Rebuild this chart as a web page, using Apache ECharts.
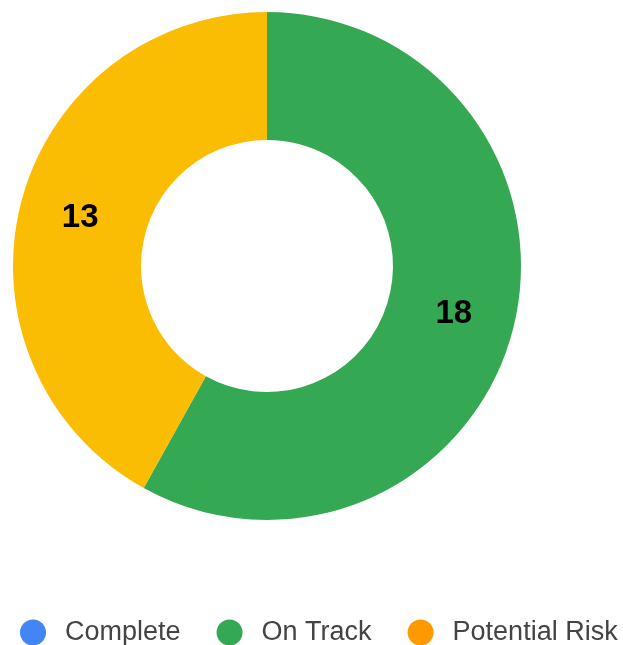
<!DOCTYPE html>
<html><head><meta charset="utf-8">
<script src="https://cdn.jsdelivr.net/npm/echarts@6/dist/echarts.min.js"></script>
<style>html,body{margin:0;padding:0;background:#fff}#c{width:623px;height:645px}</style>
</head><body><div id="c"></div>
<script>
const categories = ['Complete', 'On Track', 'Potential Risk'];
const values = [0, 18, 13];
const sliceColors = ['#4285F4', '#34A853', '#FBBC04'];
const legendColors = ['#4285F4', '#34A853', '#FF9900'];

const chart = echarts.init(document.getElementById('c'));
chart.setOption({
  animation: false,
  legend: {
    data: categories.map((n, i) => ({ name: n, itemStyle: { color: legendColors[i] } })),
    icon: 'circle',
    left: 15,
    top: 614,
    itemWidth: 26,
    itemHeight: 26,
    itemGap: 36,
    textStyle: { fontFamily: 'Liberation Sans, Arial', fontSize: 27, color: '#444', padding: [0, 0, 0, 14] }
  },
  series: [{
    type: 'pie',
    center: [267, 266],
    radius: [126, 254],
    startAngle: 90,
    clockwise: true,
    avoidLabelOverlap: false,
    label: {
      show: true,
      position: 'inside',
      formatter: p => p.value > 0 ? String(p.value) : '',
      fontFamily: 'Liberation Sans, Arial',
      fontWeight: 'bold',
      fontSize: 33,
      color: '#000'
    },
    labelLine: { show: false },
    emphasis: { disabled: true },
    data: categories.map((n, i) => ({ name: n, value: values[i], itemStyle: { color: sliceColors[i] } }))
  }]
});
</script></body></html>
